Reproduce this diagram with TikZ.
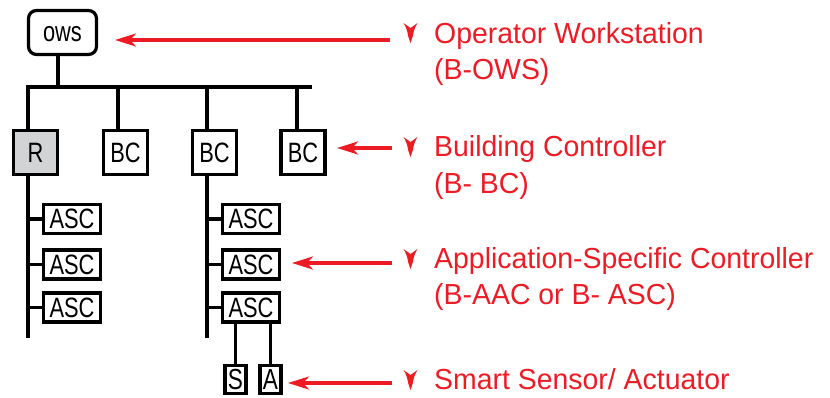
\documentclass[tikz,border=0pt]{standalone}
\usepackage{fontspec}
\setmainfont{Liberation Sans}[FakeStretch=0.98]
\newfontfamily\boxfont{Liberation Sans}[FakeStretch=0.78]
\usetikzlibrary{arrows.meta}
\definecolor{lred}{RGB}{237,28,36}
\definecolor{lgray}{RGB}{210,211,213}
\begin{document}
\begin{tikzpicture}[x=1pt,y=-1pt,
  line join=miter,
  wire/.style={line width=3.2pt,draw=black},
  box/.style={draw=black,line width=3.2pt,fill=white,inner sep=0pt,
    font=\boxfont\fontsize{28}{28}\selectfont},
  bcbox/.style={box,minimum width=44pt,minimum height=44pt},
  ascbox/.style={box,minimum width=57pt,minimum height=29pt},
  sabox/.style={box,minimum width=21pt,minimum height=28pt,
    font=\boxfont\fontsize{29}{29}\selectfont},
  redarrow/.style={draw=lred,line width=3.2pt,
    -{Stealth[length=21pt,width=13pt,inset=6pt]}},
  lab/.style={anchor=base west,inner sep=0pt,text=lred,
    font=\fontsize{29}{29}\selectfont},
  redmark/.pic={\fill[lred] (-7,-20) -- (0,-15) -- (7,-20)
      .. controls (4.5,-16) and (3,-12) .. (2.4,-7) -- (0,0) -- (-2.4,-7)
      .. controls (-3,-12) and (-4.5,-16) .. cycle;}
]
\useasboundingbox (0,0) rectangle (830,397);

% nodes
\node[box,rounded corners=8pt,minimum width=68pt,minimum height=44pt,
  text height=17pt,text depth=0pt] (ows) at (62.5,32.5) {ows};
\node[bcbox,fill=lgray] (r) at (35.5,152.5) {R};
\node[bcbox] (bc1) at (125.5,152.5) {BC};
\node[bcbox] (bc2) at (214.5,152.5) {BC};
\node[bcbox] (bc3) at (303,152.5) {BC};
\node[ascbox] (asc1) at (72,219) {ASC};
\node[ascbox] (asc2) at (72,264.5) {ASC};
\node[ascbox] (asc3) at (72,307.5) {ASC};
\node[ascbox] (asc4) at (251,219) {ASC};
\node[ascbox] (asc5) at (251,264.5) {ASC};
\node[ascbox] (asc6) at (251,307.5) {ASC};
\node[sabox] (s) at (235.5,379.5) {S};
\node[sabox] (a) at (270.5,379.5) {A};

% bus coordinates
\coordinate (dO) at (58,87);
\coordinate (d1) at (28,87);
\coordinate (d2) at (118,87);
\coordinate (d3) at (207,87);
\coordinate (d4) at (297,87);
\coordinate (busR) at (312,87);
\coordinate (vL) at (28,338);
\coordinate (vR) at (207,338);

% wires
\draw[wire] (dO |- ows.south) -- (dO);
\draw[wire] (busR) -- (d1) -- (d1 |- r.north);
\draw[wire] (d2) -- (d2 |- bc1.north);
\draw[wire] (d3) -- (d3 |- bc2.north);
\draw[wire] (d4) -- (d4 |- bc3.north);
\draw[wire] (r.south -| vL) -- (vL);
\draw[wire] (bc2.south -| vR) -- (vR);
\foreach \n in {asc1,asc2,asc3} \draw[wire] (\n.west -| vL) -- (\n.west);
\foreach \n in {asc4,asc5,asc6} \draw[wire] (\n.west -| vR) -- (\n.west);
\draw[wire] (s.north) -- (s.north |- asc6.south);
\draw[wire] (a.north) -- (a.north |- asc6.south);

% arrows
\coordinate (t1) at (390,40);   \coordinate (h1) at (115,40);
\coordinate (t2) at (392,148);  \coordinate (h2) at (337,148);
\coordinate (t3) at (392,263);  \coordinate (h3) at (292,263);
\coordinate (t4) at (392,383);  \coordinate (h4) at (288,383);
\draw[redarrow] (t1) -- (h1);
\draw[redarrow] (t2) -- (h2);
\draw[redarrow] (t3) -- (h3);
\draw[redarrow] (t4) -- (h4);

% marks
\pic at (410.5,43) {redmark};
\pic at (410.5,157) {redmark};
\pic at (410.5,269) {redmark};
\pic at (410.5,390) {redmark};

% labels
\node[lab] (l1a) at (434,43) {Operator Workstation};
\node[lab] (l1b) at (434,79) {(B-OWS)};
\node[lab] (l2a) at (434,156) {Building Controller};
\node[lab] (l2b) at (434,193) {(B- BC)};
\node[lab] (l3a) at (434,268) {Application-Specific Controller};
\node[lab] (l3b) at (434,304) {(B-AAC or B- ASC)};
\node[lab] (l4a) at (434,389) {Smart Sensor/ Actuator};
\end{tikzpicture}
\end{document}
